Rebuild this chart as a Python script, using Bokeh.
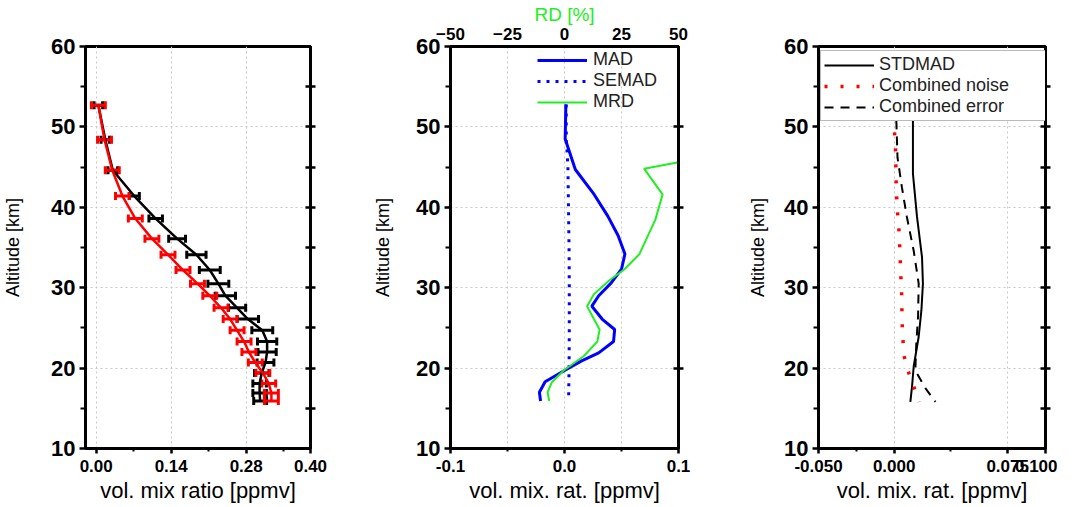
from bokeh.plotting import figure
from bokeh.models import (Range1d, LinearAxis, FixedTicker, NumeralTickFormatter,
                          Whisker, TeeHead, ColumnDataSource, Legend, LegendItem)
from bokeh.layouts import row
from bokeh.embed import file_html
from bokeh.resources import INLINE

# ---------------- data ----------------
# Panel 1: profiles with error bars
alt1 = [52.7, 48.4, 44.6, 41.4, 38.6, 36.1, 34.1, 32.2, 30.5, 29.0,
        27.5, 26.1, 24.7, 23.3, 22.0, 20.7, 19.4, 18.1, 16.9, 15.9]
vmr_black = [0.004, 0.017, 0.031, 0.071, 0.111, 0.151, 0.187, 0.212, 0.228, 0.241,
             0.263, 0.283, 0.310, 0.319, 0.319, 0.316, 0.309, 0.305, 0.305, 0.306]
err_black = [0.008, 0.008, 0.009, 0.0095, 0.0126, 0.0157, 0.018, 0.0195, 0.0195, 0.019,
             0.016, 0.020, 0.0195, 0.018, 0.017, 0.0157, 0.0135, 0.0126, 0.0126, 0.012]
vmr_red = [0.004, 0.0155, 0.030, 0.049, 0.073, 0.104, 0.134, 0.162, 0.189, 0.212,
           0.233, 0.250, 0.263, 0.276, 0.285, 0.297, 0.311, 0.322, 0.327, 0.327]
err_red = [0.013] * 20

# Panel 2: MAD, SEMAD (ppmv) and MRD (%)
alt_mad = [52.8, 48.5, 44.7, 41.6, 38.9, 36.5, 34.2, 32.3, 30.6, 29.0,
           27.7, 26.1, 24.8, 23.3, 21.9, 20.9, 19.7, 18.3, 17.0, 15.9]
mad = [0.0012, 0.0006, 0.0095, 0.026, 0.038, 0.047, 0.053, 0.050, 0.041, 0.030,
       0.024, 0.033, 0.044, 0.043, 0.030, 0.015, 0.000, -0.017, -0.022, -0.021]
alt_semad = [52.8, 48.5, 45.0, 40.0, 35.0, 30.0, 25.0, 20.0, 15.9]
semad = [0.0015, 0.0016, 0.0030, 0.0035, 0.0040, 0.0042, 0.0042, 0.0040, 0.0036]
alt_mrd = [45.6, 44.8, 41.6, 38.5, 34.2, 32.3, 30.9, 29.2, 27.7, 26.1,
           24.8, 23.3, 21.5, 19.7, 18.2, 17.0, 15.9]
mrd = [50.0, 34.9, 43.0, 39.9, 32.9, 26.3, 19.6, 12.9, 9.9, 12.9,
       15.4, 14.4, 8.5, -0.4, -5.6, -7.4, -6.7]

# Panel 3: STDMAD, combined noise, combined error
alt_std = [52.8, 51.6, 44.2, 38.8, 33.8, 30.5, 27.2, 23.9, 20.2, 17.7, 15.8]
stdmad = [0.0124, 0.0124, 0.0124, 0.0151, 0.0184, 0.0190, 0.0180, 0.0162, 0.0129, 0.0118, 0.0107]
alt_noise = [51.3, 49.4, 47.3, 45.3, 43.3, 41.4, 39.4, 37.4, 35.5, 33.5,
             31.5, 29.5, 27.5, 25.5, 23.6, 21.6, 19.7, 17.7, 15.8]
noise = [0.0007, 0.0002, 0.0009, 0.0011, 0.0013, 0.0016, 0.0022, 0.0031, 0.0036, 0.0040,
         0.0044, 0.0049, 0.0051, 0.0053, 0.0058, 0.0064, 0.0091, 0.0129, 0.0166]
alt_err = [52.8, 51.6, 46.2, 42.5, 38.8, 34.6, 30.5, 26.4, 23.0, 19.7, 17.5, 15.8]
comb_err = [0.0010, 0.0013, 0.0022, 0.0051, 0.0084, 0.0129, 0.0162, 0.0158, 0.0146, 0.0140, 0.0206, 0.0273]

# axis ticks / labels
y_major = [10, 20, 30, 40, 50, 60]
y_minor = [15, 25, 35, 45, 55]
y_grid = [20, 30, 40, 50]
x1_major = [0.0, 0.14, 0.28, 0.40]
x1_minor = [0.07, 0.21, 0.35]
x2_major = [-0.1, 0.0, 0.1]
x2_minor = [-0.05, 0.05]
rd_major = [-50, -25, 0, 25, 50]
x3_major = [-0.05, 0.0, 0.075, 0.1]
x3_minor = [-0.025, 0.0375]

FONT = "Liberation Sans"
FH = 402
GRID_COLOR = "#c8c8c8"


def style_axis(ax, size):
    ax.axis_line_width = 3
    ax.axis_line_color = "black"
    ax.major_tick_line_width = 2.5
    ax.minor_tick_line_width = 2
    ax.major_tick_in = 0
    ax.minor_tick_in = 0
    ax.major_label_text_font = FONT
    ax.major_label_text_font_style = "bold"
    ax.major_label_text_font_size = size
    ax.major_label_text_color = "black"
    ax.axis_label_text_font = FONT
    ax.axis_label_text_font_style = "normal"
    ax.axis_label_text_color = "black"


def make_fig(fw, xr, left, right, xmajor, xminor, xfmt, xgrid, xlabel, ylab_standoff):
    p = figure(frame_width=fw, frame_height=FH, x_range=xr, y_range=Range1d(10, 60),
               output_backend="svg", toolbar_location=None,
               min_border_left=left, min_border_right=right,
               min_border_top=46, min_border_bottom=58)
    p.outline_line_color = "black"
    p.outline_line_width = 3
    p.outline_line_alpha = 1.0
    p.background_fill_color = "white"
    p.border_fill_color = "white"

    xa = p.xaxis[0]
    xa.ticker = FixedTicker(ticks=xmajor, minor_ticks=xminor)
    xa.formatter = NumeralTickFormatter(format=xfmt)
    style_axis(xa, "17px")
    xa.major_tick_out = 5
    xa.minor_tick_out = 3
    xa.major_label_standoff = 6
    xa.axis_label = xlabel
    xa.axis_label_text_font_size = "22px"
    xa.axis_label_standoff = 3

    ya = p.yaxis[0]
    ya.ticker = FixedTicker(ticks=y_major, minor_ticks=y_minor)
    style_axis(ya, "22px")
    ya.major_tick_out = 6
    ya.minor_tick_out = 5
    ya.major_label_standoff = 4
    ya.axis_label = "Altitude [km]"
    ya.axis_label_text_font_size = "18px"
    ya.axis_label_standoff = ylab_standoff

    p.xgrid.ticker = FixedTicker(ticks=xgrid)
    p.ygrid.ticker = FixedTicker(ticks=y_grid)
    for g in (p.xgrid[0], p.ygrid[0]):
        g.grid_line_color = GRID_COLOR
        g.grid_line_dash = "2 3"
        g.grid_line_width = 1
    return p


def add_right_axis(p, ticks):
    ra = LinearAxis(ticker=FixedTicker(ticks=ticks, minor_ticks=[]))
    ra.axis_line_width = 3
    ra.major_tick_in = 5
    ra.major_tick_out = 5
    ra.major_tick_line_width = 2.5
    ra.major_label_text_color = None
    ra.major_label_standoff = 0
    p.add_layout(ra, "right")


def style_legend(leg, label_width):
    leg.spacing = 0
    leg.margin = 0
    leg.glyph_width = 50
    leg.glyph_height = 20
    leg.label_height = 20
    leg.label_width = label_width
    leg.label_text_font = FONT
    leg.label_text_font_size = "18px"
    leg.label_text_color = "#222222"


# ---------------- Panel 1 ----------------
p1 = make_fig(225, Range1d(-0.02, 0.40), 84, 60, x1_major, x1_minor, "0.00",
              [0.0, 0.14, 0.28], "vol. mix ratio [ppmv]", 25)
add_right_axis(p1, [15, 20, 25, 30, 35, 40, 45, 50, 55])

src_b = ColumnDataSource(dict(alt=alt1, x=vmr_black,
                              lo=[v - e for v, e in zip(vmr_black, err_black)],
                              hi=[v + e for v, e in zip(vmr_black, err_black)]))
src_r = ColumnDataSource(dict(alt=alt1, x=vmr_red,
                              lo=[v - e for v, e in zip(vmr_red, err_red)],
                              hi=[v + e for v, e in zip(vmr_red, err_red)]))

p1.line("x", "alt", source=src_b, line_color="black", line_width=2.5)
p1.add_layout(Whisker(source=src_b, base="alt", lower="lo", upper="hi", dimension="width",
                      line_color="black", line_width=3,
                      upper_head=TeeHead(size=8, line_color="black", line_width=3),
                      lower_head=TeeHead(size=8, line_color="black", line_width=3)))
p1.line("x", "alt", source=src_r, line_color="red", line_width=2.5)
p1.add_layout(Whisker(source=src_r, base="alt", lower="lo", upper="hi", dimension="width",
                      line_color="red", line_width=3,
                      upper_head=TeeHead(size=8, line_color="red", line_width=3),
                      lower_head=TeeHead(size=8, line_color="red", line_width=3)))

# ---------------- Panel 2 ----------------
p2 = make_fig(228, Range1d(-0.1, 0.1), 75, 60, x2_major, x2_minor, "0.0",
              [-0.05, 0.0, 0.05], "vol. mix. rat. [ppmv]", 20)
add_right_axis(p2, [20, 30, 40, 50])
p2.extra_x_ranges = {"rd": Range1d(-50, 50)}
ta = LinearAxis(x_range_name="rd", ticker=FixedTicker(ticks=rd_major, minor_ticks=[]))
style_axis(ta, "17px")
ta.major_tick_out = 0
ta.major_label_standoff = 7
ta.axis_label = "RD [%]"
ta.axis_label_text_color = "#22ee22"
ta.axis_label_text_font_size = "19px"
ta.axis_label_standoff = 0
p2.add_layout(ta, "above")

r_mad = p2.line(mad, alt_mad, line_color="#0000ff", line_width=3)
r_semad = p2.line(semad, alt_semad, line_color="#0000ff", line_width=3, line_dash="3 6")
r_mrd = p2.line(mrd, alt_mrd, line_color="#22ee22", line_width=2, x_range_name="rd")

leg2 = Legend(items=[LegendItem(label="MAD", renderers=[r_mad]),
                     LegendItem(label="SEMAD", renderers=[r_semad]),
                     LegendItem(label="MRD", renderers=[r_mrd])],
              location=(87, FH - 4 - 62))
style_legend(leg2, 20)
leg2.border_line_alpha = 0
leg2.background_fill_alpha = 0
leg2.padding = 0
leg2.label_standoff = 6
p2.add_layout(leg2)

# ---------------- Panel 3 ----------------
p3 = make_fig(227, Range1d(-0.05, 0.1), 80, 12, x3_major, x3_minor, "0.000",
              [0.0, 0.075], "vol. mix. rat. [ppmv]", 13)
add_right_axis(p3, [15, 20, 25, 30, 35, 40, 45, 50, 55])

r_std = p3.line(stdmad, alt_std, line_color="black", line_width=2)
r_noise = p3.line(noise, alt_noise, line_color="red", line_width=3.5, line_dash="3 13")
r_err = p3.line(comb_err, alt_err, line_color="black", line_width=2, line_dash="9 7")

leg3 = Legend(items=[LegendItem(label="STDMAD", renderers=[r_std]),
                     LegendItem(label="Combined noise", renderers=[r_noise]),
                     LegendItem(label="Combined error", renderers=[r_err])],
              location=(2, FH - 7 - 68))
style_legend(leg3, 163)
leg3.spacing = -2
leg3.border_line_color = "#777777"
leg3.border_line_width = 1
leg3.background_fill_color = "white"
leg3.background_fill_alpha = 1
leg3.padding = 3
leg3.label_standoff = 5
p3.add_layout(leg3)

layout = row(p1, p2, p3)
open("out.html", "w").write(file_html(layout, INLINE))
